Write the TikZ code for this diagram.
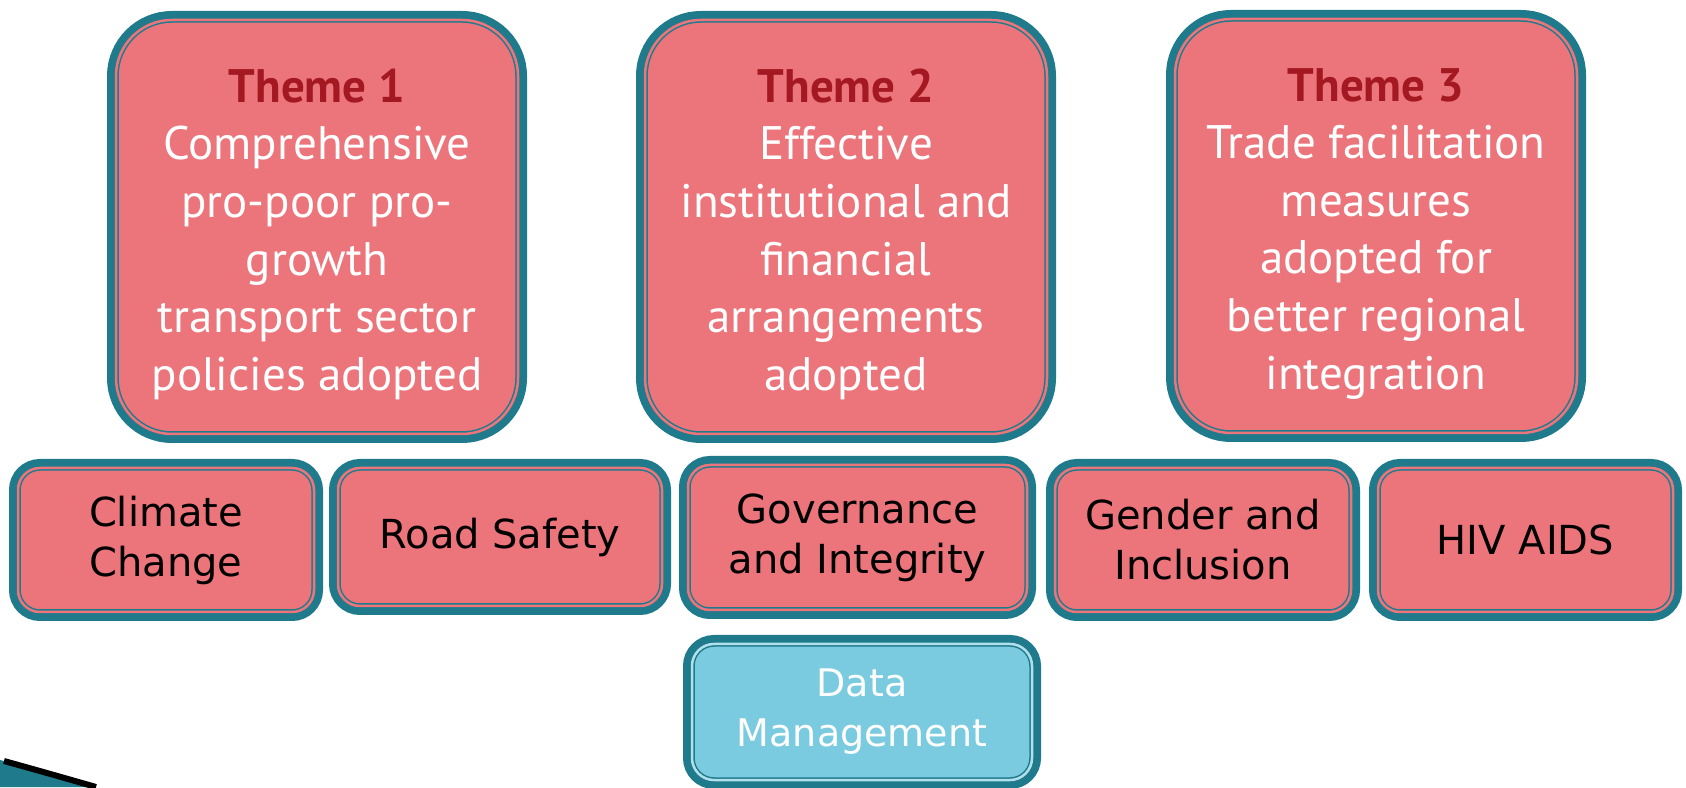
\documentclass[tikz,border=0pt]{standalone}
\usepackage{fontspec}
\usepackage{xcolor}
\newfontfamily\themefont{PT Sans}
\newfontfamily\labelfont{DejaVu Sans}
\definecolor{tealc}{RGB}{31,122,140}
\definecolor{pinkc}{RGB}{236,117,123}
\definecolor{darkred}{RGB}{163,24,33}
\definecolor{bluec}{RGB}{122,203,224}
\newcommand{\themehead}[1]{\rule{0pt}{24pt}\textcolor{darkred}{\bfseries #1}}

\begin{document}
\begin{tikzpicture}[x=0.5pt,y=0.5pt]
    \tikzstyle{BX} = [rectangle, inner sep=0pt, align=center, draw=tealc, double distance=1.25pt, line width=0.75pt, preaction={draw=tealc, line width=9pt}]
    \tikzstyle{TH} = [BX, rounded corners=28pt, minimum width=201pt, minimum height=207pt, fill=pinkc, double=pinkc, text=white, font=\themefont\fontsize{23.5}{28.8}\selectfont]
    \tikzstyle{CT} = [BX, rounded corners=11pt, minimum height=72pt, fill=pinkc, double=pinkc, text=black, font=\labelfont\fontsize{20}{25}\selectfont]
    \tikzstyle{DM} = [BX, rounded corners=11pt, minimum height=68pt, fill=bluec, double=bluec!60!white, text=white, font=\labelfont\fontsize{19}{25}\selectfont]
    \useasboundingbox (0,0) rectangle (1686,787);
    % themes
    \node (t1) at (317,560) [TH] {\themehead{Theme 1}\\Comprehensive\\pro-poor pro-\\growth\\transport sector\\policies adopted};
    \node (t2) at (846,560) [TH] {\themehead{Theme 2}\\Effective\\institutional and\\financial\\arrangements\\adopted};
    \node (t3) at (1376,561) [TH] {\themehead{Theme 3}\\Trade facilitation\\measures\\adopted for\\better regional\\integration};
    % cross-cutting issues
    \node (cc) at (166,247) [CT, minimum width=148pt] {Climate\\Change};
    \node (rs) at (500,250) [CT, minimum width=162pt, minimum height=69pt] {Road Safety};
    \node (gi) at (857.5,249.5) [CT, minimum width=169.5pt, minimum height=72.5pt] {Governance\\and Integrity};
    \node (gd) at (1203,247) [CT, minimum width=148pt] {Gender and\\Inclusion};
    \node (hv) at (1525.5,247) [CT, minimum width=147.5pt] {HIV AIDS};
    \node (dm) at (862,75) [DM, minimum width=170pt] {Data\\Management};
    % corner
    \fill[tealc] (0,0) -- (0,27) .. controls (40,17) .. (96,0) -- cycle;
    \draw[black, line width=3] (4,26) .. controls (40,16) .. (96,0);
\end{tikzpicture}
\end{document}
